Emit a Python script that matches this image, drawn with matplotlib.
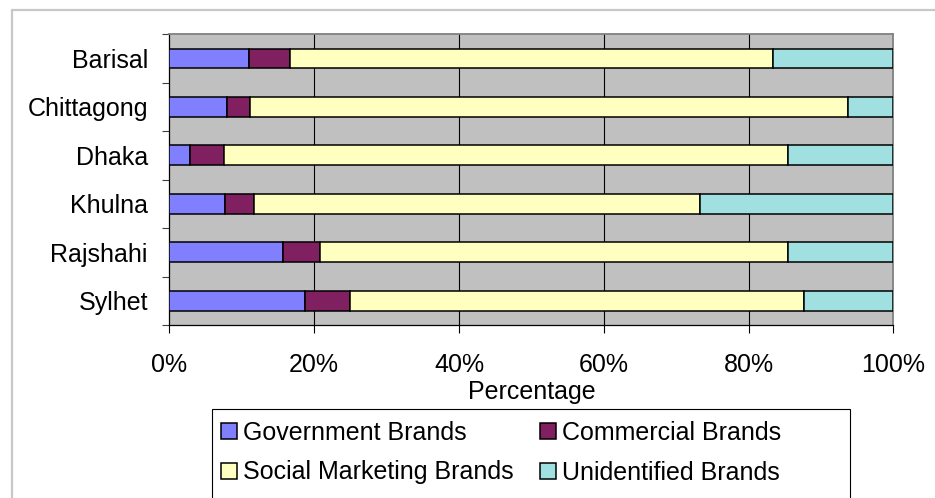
import matplotlib
matplotlib.use("Agg")
import matplotlib.pyplot as plt
from matplotlib.patches import Rectangle
import numpy as np

plt.rcParams['font.family'] = ['Liberation Sans', 'DejaVu Sans']

# Share of brands by division (percent)
regions = ["Barisal", "Chittagong", "Dhaka", "Khulna", "Rajshahi", "Sylhet"]
government = [11.0, 8.0, 2.8, 7.7, 15.7, 18.8]
commercial = [5.7, 3.1, 4.7, 4.0, 5.1, 6.1]
social = [66.7, 82.6, 77.9, 61.6, 64.6, 62.7]
unidentified = [16.6, 6.3, 14.6, 26.7, 14.6, 12.4]

series_names = ["Government Brands", "Commercial Brands",
                "Social Marketing Brands", "Unidentified Brands"]
series_colors = ["#8080FF", "#802060", "#FFFFC0", "#A0E0E0"]

x_ticks = [0, 20, 40, 60, 80, 100]
x_ticklabels = ["0%", "20%", "40%", "60%", "80%", "100%"]
x_title = "Percentage"

W, H = 935, 498
FS = 18


def fx(px):
    return px / W


def fy(py):
    return 1 - py / H


fig = plt.figure(figsize=(W / 100, H / 100), dpi=100)

# outer chart frame
fig.patches.append(Rectangle((fx(12), fy(530)), fx(960) - fx(12), fy(10) - fy(530),
                             transform=fig.transFigure, fill=False,
                             edgecolor="#c8c8c8", linewidth=1.6))

left, right, top, bottom = 169.4, 893.3, 34.3, 325.0
ax = fig.add_axes([fx(left), fy(bottom), fx(right) - fx(left), fy(top) - fy(bottom)])
ax.set_facecolor("#C0C0C0")

data = [np.array(government), np.array(commercial), np.array(social), np.array(unidentified)]
totals = sum(data)
y = np.arange(len(regions))
cum = np.zeros(len(regions))
handles = []
for vals, name, col in zip(data, series_names, series_colors):
    share = vals / totals * 100
    b = ax.barh(y, share, left=cum, height=0.41, color=col,
                edgecolor="black", linewidth=1.1, label=name, zorder=3)
    handles.append(b)
    cum += share

ax.set_xlim(0, 100)
ax.set_ylim(len(regions) - 0.5, -0.5)

ax.set_xticks(x_ticks)
ax.set_xticklabels(x_ticklabels, fontsize=FS)
ax.tick_params(axis="x", direction="out", length=6, width=0.8, color="black", pad=14)

ax.set_yticks(y)
ax.set_yticklabels(regions, fontsize=FS)
ax.set_yticks(np.arange(-0.5, len(regions)), minor=True)
ax.tick_params(axis="y", which="major", length=0, pad=15.5)
ax.tick_params(axis="y", which="minor", direction="out", length=5, width=0.8, color="#404040")

for gx in x_ticks[1:-1]:
    ax.axvline(gx, color="#000000", linewidth=0.8, zorder=1)

for s in ["left", "bottom"]:
    ax.spines[s].set_color("black")
    ax.spines[s].set_linewidth(0.9)
for s in ["top", "right"]:
    ax.spines[s].set_color("#808080")
    ax.spines[s].set_linewidth(1.3)

ax.set_xlabel(x_title, fontsize=FS, labelpad=2)

# legend box
fig.patches.append(Rectangle((fx(212), fy(520)), fx(850) - fx(212), fy(409) - fy(520),
                             transform=fig.transFigure, fill=False,
                             edgecolor="black", linewidth=0.8))
# two columns filled row by row: Government / Commercial, then Social / Unidentified
order = [0, 2, 1, 3]
leg = fig.legend(handles=[handles[i] for i in order],
                 labels=[series_names[i] for i in order], ncol=2, frameon=False,
                 loc="upper left", bbox_to_anchor=(fx(221), fy(421)),
                 fontsize=FS, borderpad=0, borderaxespad=0,
                 handlelength=0.62, handleheight=0.62, handletextpad=0.25,
                 columnspacing=1.08, labelspacing=0.62)
for p in leg.get_patches():
    p.set_linewidth(1.1)

fig.savefig("out.png", dpi=100, facecolor="white")
